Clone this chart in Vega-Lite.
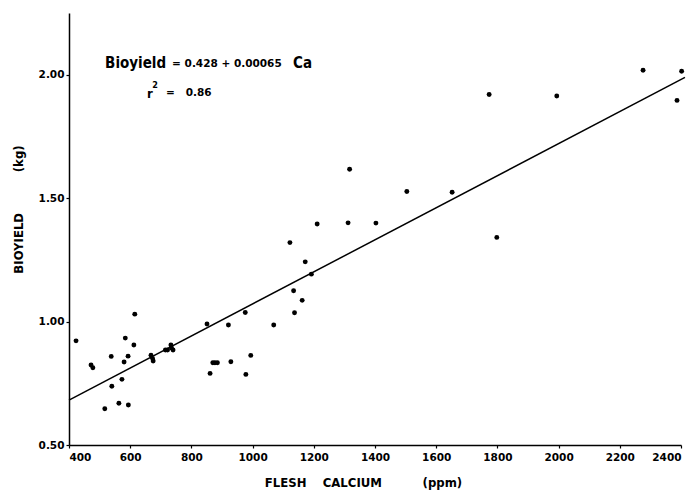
{
  "$schema": "https://vega.github.io/schema/vega-lite/v6.json",
  "width": 612,
  "height": 432,
  "autosize": "none",
  "padding": {"left": 69, "top": 13, "right": 13, "bottom": 49},
  "background": "white",
  "config": {
    "view": {"stroke": null},
    "font": "DejaVu Sans Condensed",
    "axis": {
      "grid": false,
      "domainColor": "black",
      "domainWidth": 1.5,
      "tickColor": "black",
      "tickWidth": 1.2,
      "tickSize": 3,
      "labelColor": "black",
      "labelFont": "DejaVu Sans",
      "labelFontWeight": "bold",
      "labelFontSize": 10.5,
      "titleColor": "black",
      "titleFont": "DejaVu Sans Condensed",
      "titleFontWeight": "bold",
      "titleFontSize": 13
    }
  },
  "datasets": {
    "pts": [
      {"ca": 423, "yield": 0.922},
      {"ca": 472, "yield": 0.824},
      {"ca": 478, "yield": 0.813},
      {"ca": 538, "yield": 0.859},
      {"ca": 540, "yield": 0.738},
      {"ca": 517, "yield": 0.647},
      {"ca": 563, "yield": 0.669},
      {"ca": 573, "yield": 0.766},
      {"ca": 580, "yield": 0.836},
      {"ca": 584, "yield": 0.933},
      {"ca": 593, "yield": 0.860},
      {"ca": 594, "yield": 0.662},
      {"ca": 612, "yield": 0.905},
      {"ca": 615, "yield": 1.030},
      {"ca": 668, "yield": 0.864},
      {"ca": 673, "yield": 0.851},
      {"ca": 675, "yield": 0.840},
      {"ca": 715, "yield": 0.885},
      {"ca": 722, "yield": 0.885},
      {"ca": 733, "yield": 0.905},
      {"ca": 735, "yield": 0.893},
      {"ca": 740, "yield": 0.885},
      {"ca": 851, "yield": 0.990},
      {"ca": 861, "yield": 0.790},
      {"ca": 870, "yield": 0.833},
      {"ca": 877, "yield": 0.833},
      {"ca": 885, "yield": 0.833},
      {"ca": 921, "yield": 0.986},
      {"ca": 929, "yield": 0.837},
      {"ca": 976, "yield": 1.037},
      {"ca": 978, "yield": 0.786},
      {"ca": 994, "yield": 0.863},
      {"ca": 1069, "yield": 0.986},
      {"ca": 1122, "yield": 1.320},
      {"ca": 1134, "yield": 1.125},
      {"ca": 1137, "yield": 1.036},
      {"ca": 1162, "yield": 1.086},
      {"ca": 1172, "yield": 1.242},
      {"ca": 1192, "yield": 1.192},
      {"ca": 1211, "yield": 1.395},
      {"ca": 1312, "yield": 1.400},
      {"ca": 1317, "yield": 1.617},
      {"ca": 1403, "yield": 1.399},
      {"ca": 1504, "yield": 1.527},
      {"ca": 1652, "yield": 1.524},
      {"ca": 1773, "yield": 1.920},
      {"ca": 1798, "yield": 1.341},
      {"ca": 1994, "yield": 1.914},
      {"ca": 2276, "yield": 2.018},
      {"ca": 2387, "yield": 1.896},
      {"ca": 2402, "yield": 2.014}
    ],
    "fit": [
      {"ca": 400, "yield": 0.682},
      {"ca": 2413, "yield": 1.989}
    ]
  },
  "layer": [
    {
      "data": {"name": "fit"},
      "mark": {"type": "line", "color": "black", "strokeWidth": 1.5},
      "encoding": {
        "x": {
          "field": "ca", "type": "quantitative",
          "scale": {"domain": [400, 2400], "nice": false, "zero": false},
          "axis": {
            "values": [400, 600, 800, 1000, 1200, 1400, 1600, 1800, 2000, 2200, 2400],
            "format": "d",
            "labelPadding": 4,
            "title": "FLESH\u00a0\u00a0\u00a0\u00a0CALCIUM\u00a0\u00a0\u00a0\u00a0\u00a0\u00a0\u00a0\u00a0\u00a0\u00a0(ppm)",
            "titleX": 294,
            "titleY": 37,
            "titleBaseline": "middle"
          }
        },
        "y": {
          "field": "yield", "type": "quantitative",
          "scale": {"domain": [0.5, 2.25], "nice": false, "zero": false},
          "axis": {
            "values": [0.5, 1.0, 1.5, 2.0],
            "format": ".2f",
            "labelPadding": 2,
            "title": "BIOYIELD\u00a0\u00a0\u00a0\u00a0\u00a0\u00a0\u00a0\u00a0\u00a0\u00a0(kg)",
            "titleX": -51,
            "titleY": 196,
            "titleBaseline": "middle"
          }
        }
      }
    },
    {
      "data": {"name": "pts"},
      "mark": {"type": "circle", "color": "black", "opacity": 1, "size": 24},
      "encoding": {
        "x": {"field": "ca", "type": "quantitative"},
        "y": {"field": "yield", "type": "quantitative"}
      }
    },
    {
      "data": {"values": [{}]},
      "mark": {"type": "text", "align": "left", "baseline": "middle", "fontSize": 15, "fontWeight": "bold", "color": "black", "font": "DejaVu Sans Condensed"},
      "encoding": {
        "x": {"datum": 518},
        "y": {"datum": 2.047},
        "text": {"value": "Bioyield"}
      }
    },
    {
      "data": {"values": [{}]},
      "mark": {"type": "text", "align": "left", "baseline": "middle", "fontSize": 10.5, "fontWeight": "bold", "color": "black", "font": "DejaVu Sans"},
      "encoding": {
        "x": {"datum": 737},
        "y": {"datum": 2.045},
        "text": {"value": "=\u00a00.428\u00a0+\u00a00.00065"}
      }
    },
    {
      "data": {"values": [{}]},
      "mark": {"type": "text", "align": "left", "baseline": "middle", "fontSize": 15, "fontWeight": "bold", "color": "black", "font": "DejaVu Sans Condensed"},
      "encoding": {
        "x": {"datum": 1132},
        "y": {"datum": 2.047},
        "text": {"value": "Ca"}
      }
    },
    {
      "data": {"values": [{}]},
      "mark": {"type": "text", "align": "left", "baseline": "middle", "fontSize": 13, "fontWeight": "bold", "color": "black", "font": "DejaVu Sans Condensed"},
      "encoding": {
        "x": {"datum": 655},
        "y": {"datum": 1.922},
        "text": {"value": "r"}
      }
    },
    {
      "data": {"values": [{}]},
      "mark": {"type": "text", "align": "left", "baseline": "middle", "fontSize": 9, "fontWeight": "bold", "color": "black", "font": "DejaVu Sans Condensed"},
      "encoding": {
        "x": {"datum": 672},
        "y": {"datum": 1.957},
        "text": {"value": "2"}
      }
    },
    {
      "data": {"values": [{}]},
      "mark": {"type": "text", "align": "left", "baseline": "middle", "fontSize": 10.5, "fontWeight": "bold", "color": "black", "font": "DejaVu Sans"},
      "encoding": {
        "x": {"datum": 717},
        "y": {"datum": 1.925},
        "text": {"value": "=\u00a0\u00a0\u00a00.86"}
      }
    }
  ]
}
